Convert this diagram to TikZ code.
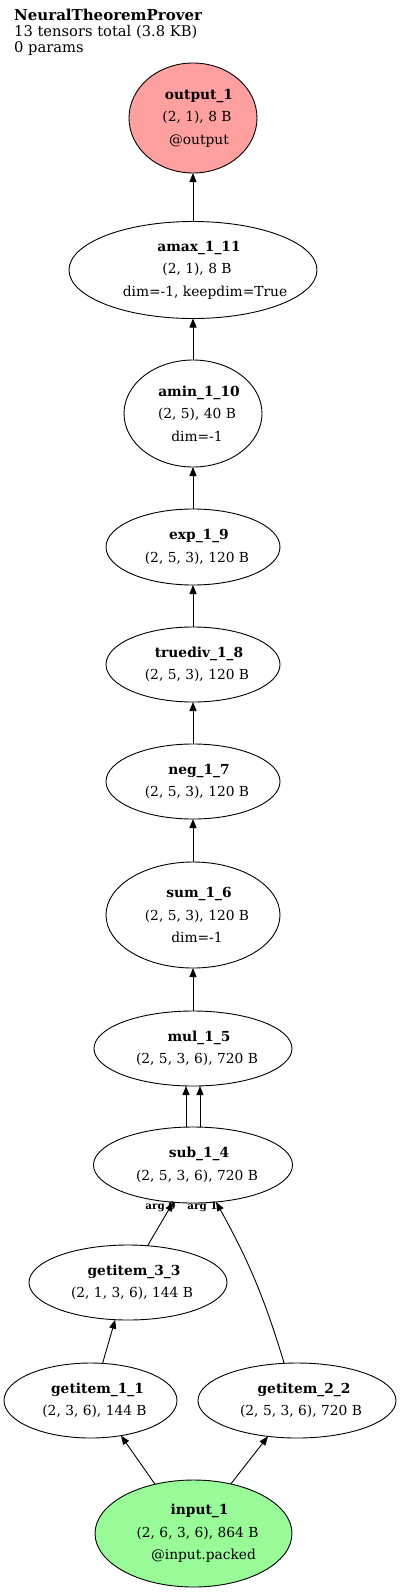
\documentclass[tikz,border=0pt]{standalone}
\usepackage{fontspec}
\setmainfont{DejaVu Serif}
\usetikzlibrary{arrows.meta,shapes.geometric}
\definecolor{outred}{HTML}{FFA0A0}
\definecolor{ingreen}{HTML}{98FB98}
\begin{document}
\begin{tikzpicture}[x=1pt,y=-1pt,
  op/.style={ellipse,draw=black,line width=0.9pt,inner sep=0pt,outer sep=0pt,fill=white},
  lbl/.style={font=\fontsize{13.8}{22.5}\selectfont,align=center,inner sep=0pt,xshift=4pt},
  edge/.style={line width=0.9pt,-{Triangle[length=9pt,width=7pt]}},
  argl/.style={font=\fontsize{10.3}{11}\selectfont\bfseries,inner sep=0pt},
  ttl/.style={font=\fontsize{14.7}{16}\selectfont,anchor=base west,inner sep=0pt}]
\useasboundingbox (0,0) rectangle (400,1592);

% title
\node[ttl,font=\fontsize{15}{16}\selectfont\bfseries] (t1) at (14,21) {NeuralTheoremProver};
\node[ttl] (t2) at (14,37) {13 tensors total (3.8 KB)};
\node[ttl] (t3) at (14,53) {0 params};

% nodes
\node[op,fill=outred,minimum width=128pt,minimum height=110pt] (out) at (193,118) {};
\node[op,minimum width=248pt,minimum height=97pt] (amax) at (193,270) {};
\node[op,minimum width=138pt,minimum height=107pt] (amin) at (193,413.5) {};
\node[op,minimum width=174pt,minimum height=76pt] (exp) at (193,547) {};
\node[op,minimum width=174pt,minimum height=75pt] (tdiv) at (193,664.5) {};
\node[op,minimum width=174pt,minimum height=75pt] (neg) at (193,781.5) {};
\node[op,minimum width=174pt,minimum height=106pt] (sum) at (193,915) {};
\node[op,minimum width=198pt,minimum height=75pt] (mul) at (193,1048.5) {};
\node[op,minimum width=199pt,minimum height=76pt] (sub) at (193,1165) {};
\node[op,minimum width=198pt,minimum height=75pt] (g33) at (128,1282.5) {};
\node[op,minimum width=173pt,minimum height=75pt] (g11) at (90.5,1400.5) {};
\node[op,minimum width=198pt,minimum height=75pt] (g22) at (297,1400.5) {};
\node[op,fill=ingreen,minimum width=197pt,minimum height=107pt] (in) at (193.5,1533.5) {};

% labels
\node[lbl] (out-t) at (out.center) {\hspace*{4pt}\textbf{output\_1}\\(2, 1), 8 B\\\hspace*{4pt}@output};
\node[lbl] (amax-t) at (amax.center) {\hspace*{4pt}\textbf{amax\_1\_11}\\(2, 1), 8 B\\\hspace*{16pt}dim=-1, keepdim=True};
\node[lbl] (amin-t) at (amin.center) {\hspace*{4pt}\textbf{amin\_1\_10}\\(2, 5), 40 B\\dim=-1};
\node[lbl] (exp-t) at (exp.center) {\hspace*{4pt}\textbf{exp\_1\_9}\\(2, 5, 3), 120 B};
\node[lbl] (tdiv-t) at (tdiv.center) {\hspace*{4pt}\textbf{truediv\_1\_8}\\(2, 5, 3), 120 B};
\node[lbl] (neg-t) at (neg.center) {\hspace*{4pt}\textbf{neg\_1\_7}\\(2, 5, 3), 120 B};
\node[lbl] (sum-t) at (sum.center) {\hspace*{4pt}\textbf{sum\_1\_6}\\(2, 5, 3), 120 B\\dim=-1};
\node[lbl] (mul-t) at (mul.center) {\hspace*{4pt}\textbf{mul\_1\_5}\\(2, 5, 3, 6), 720 B};
\node[lbl] (sub-t) at (sub.center) {\hspace*{4pt}\textbf{sub\_1\_4}\\(2, 5, 3, 6), 720 B};
\node[lbl] (g33-t) at (g33.center) {\hspace*{4pt}\textbf{getitem\_3\_3}\\(2, 1, 3, 6), 144 B};
\node[lbl] (g11-t) at (g11.center) {\hspace*{6pt}\textbf{getitem\_1\_1}\\(2, 3, 6), 144 B};
\node[lbl] (g22-t) at (g22.center) {\hspace*{6pt}\textbf{getitem\_2\_2}\\(2, 5, 3, 6), 720 B};
\node[lbl] (in-t) at (in.center) {\hspace*{4pt}\textbf{input\_1}\\(2, 6, 3, 6), 864 B\\\hspace*{12pt}@input.packed};

% arg labels
\node[argl] (a0) at (160.5,1207) {arg 0};
\node[argl] (a1) at (202.5,1207) {arg 1};

% edges
\draw[edge] (amax) -- (out);
\draw[edge] (amin) -- (amax);
\draw[edge] (exp) -- (amin);
\draw[edge] (tdiv) -- (exp);
\draw[edge] (neg) -- (tdiv);
\draw[edge] (sum) -- (neg);
\draw[edge] (mul) -- (sum);
\draw[edge] ([xshift=-7pt]sub.north) -- ([xshift=-7pt]mul.south);
\draw[edge] ([xshift=7pt]sub.north) -- ([xshift=7pt]mul.south);
\draw[edge] (g33.62) -- (sub.242);
\draw[edge] (g22.109) to[bend right=6] (sub.302);
\draw[edge] (g11.72) -- (g33.251);
\draw[edge] (in.128) -- (g11.311);
\draw[edge] (in.53) -- (g22.231);
\end{tikzpicture}
\end{document}
